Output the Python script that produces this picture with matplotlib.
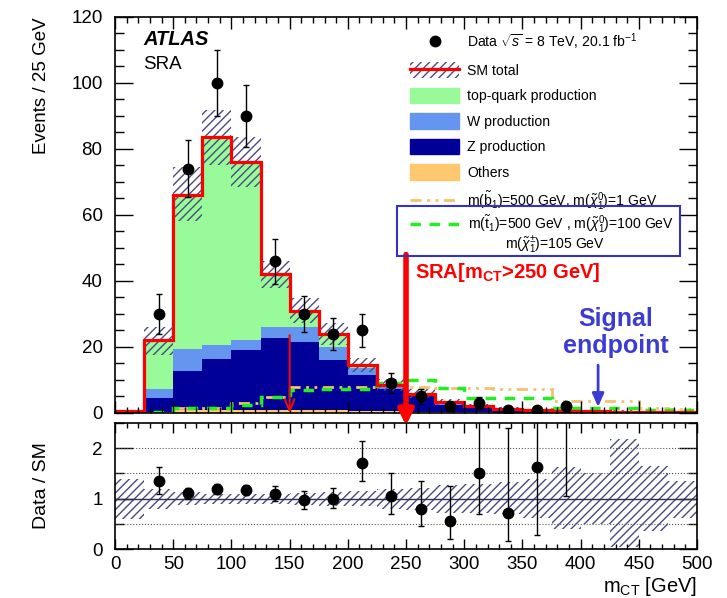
import matplotlib
matplotlib.use("Agg")
import matplotlib.pyplot as plt
import numpy as np
from matplotlib.patches import Patch, Rectangle
from matplotlib.lines import Line2D
from matplotlib.ticker import MultipleLocator

plt.rcParams['font.family'] = ['Liberation Sans', 'DejaVu Sans']
plt.rcParams['mathtext.fontset'] = 'custom'
plt.rcParams['mathtext.rm'] = 'Liberation Sans'
plt.rcParams['mathtext.it'] = 'Liberation Sans:italic'
plt.rcParams['mathtext.bf'] = 'Liberation Sans:bold'
plt.rcParams['hatch.linewidth'] = 1.0

# binning: 25 GeV bins from 0 to 500
edges = np.arange(0, 525, 25)

# background components (events per bin)
others = [0.1, 0.4, 0.8, 0.8, 0.8, 0.8, 0.8, 0.8, 0.6, 0.5, 0.4, 0.3, 0.2, 0.1, 0.1, 0.1, 0.1, 0.1, 0.1, 0.1]
zprod = [0.2, 4.2, 11.9, 15.7, 18.2, 22.0, 20.7, 15.2, 10.8, 6.9, 4.6, 2.2, 1.3, 0.7, 0.4, 0.3, 0.2, 0.2, 0.1, 0.1]
wprod = [0.1, 2.8, 6.8, 4.0, 3.2, 3.2, 4.5, 4.0, 2.3, 0.6, 0.5, 0.4, 0.2, 0.2, 0.1, 0.1, 0.1, 0.05, 0.05, 0.05]
topq = [0.1, 14.6, 46.5, 63.0, 53.8, 16.0, 5.0, 4.0, 0.8, 0.5, 0.4, 0.4, 0.3, 0.3, 0.2, 0.1, 0.1, 0.05, 0.05, 0.05]

# signal models
sig_b1 = [0.0, 0.0, 1.6, 1.6, 3.0, 4.8, 8.0, 8.0, 8.0, 8.5, 8.0, 7.5, 7.5, 7.3, 7.3, 3.5, 3.5, 3.5, 1.6, 1.2]
sig_t1 = [0.3, 0.3, 1.6, 1.6, 2.4, 4.9, 7.0, 7.3, 7.3, 9.0, 10.0, 7.5, 4.5, 4.5, 4.5, 1.6, 1.6, 1.6, 0.8, 0.8]

# SM uncertainty band (relative, as in the ratio panel)
band_lo = [0.6, 0.8, 0.88, 0.9, 0.9, 0.9, 0.88, 0.86, 0.85, 0.8, 0.78, 0.72, 0.71, 0.69, 0.62, 0.39, 0.5, 0.05, 0.35, 0.62]
band_hi = [1.38, 1.19, 1.13, 1.1, 1.1, 1.1, 1.12, 1.14, 1.15, 1.2, 1.22, 1.28, 1.29, 1.32, 1.39, 1.62, 1.5, 2.19, 1.65, 1.35]

# data
data_x = [37.5, 62.5, 87.5, 112.5, 137.5, 162.5, 187.5, 212.5, 237.5, 262.5, 287.5, 312.5, 337.5, 362.5, 387.5]
data_y = [30, 74, 100, 90, 46, 30, 24, 25, 9, 5, 2, 3, 1, 1, 2]
data_err = [6.0, 8.6, 10.0, 9.5, 6.8, 5.5, 4.9, 5.0, 3.0, 2.2, 1.4, 1.7, 1.0, 1.0, 1.4]

ratio_y = [1.35, 1.12, 1.2, 1.18, 1.1, 0.97, 1.0, 1.7, 1.05, 0.8, 0.55, 1.5, 0.72, 1.63, 3.5]
ratio_lo = [1.1, 1.0, 1.1, 1.08, 0.95, 0.8, 0.82, 1.35, 0.7, 0.45, 0.2, 0.7, 0.15, 0.28, 1.05]
ratio_hi = [1.62, 1.22, 1.3, 1.28, 1.25, 1.15, 1.22, 2.15, 1.5, 1.35, 1.25, 3.0, 2.4, 3.0, 5.0]

c_top = '#98fa98'
c_w = '#6496f0'
c_z = '#000099'
c_oth = '#ffc86e'
c_hatch = '#4a4a80'
c_b1 = '#f5c26b'
c_t1 = '#22ee22'
ls_b1 = (0, (4, 2, 1, 2, 1, 2))
ls_t1 = (0, (3, 2.5))
hatch = '////'

others = np.array(others)
zprod = np.array(zprod)
wprod = np.array(wprod)
topq = np.array(topq)
cum1 = others
cum2 = cum1 + zprod
cum3 = cum2 + wprod
sm = cum3 + topq

fig = plt.figure(figsize=(7.27, 5.98), dpi=100)
ax = fig.add_axes([0.1582, 0.3094, 0.8006, 0.6622])
axr = fig.add_axes([0.1582, 0.0819, 0.8006, 0.2107])
ax.set_zorder(3)

# stacked backgrounds
ax.stairs(cum1, edges, baseline=0, fill=True, color=c_oth, lw=0)
ax.stairs(cum2, edges, baseline=cum1, fill=True, color=c_z, lw=0)
ax.stairs(cum3, edges, baseline=cum2, fill=True, color=c_w, lw=0)
ax.stairs(sm, edges, baseline=cum3, fill=True, color=c_top, lw=0)

# uncertainty hatch
ax.stairs(sm * np.array(band_hi), edges, baseline=sm * np.array(band_lo), fill=True,
          facecolor='none', edgecolor=c_hatch, hatch=hatch, lw=0)

# signals
ax.stairs(sig_b1, edges, baseline=None, color=c_b1, lw=2, ls=ls_b1)
ax.stairs(sig_t1, edges, baseline=None, color=c_t1, lw=2.5, ls=ls_t1)

# SM total
ax.stairs(sm, edges, baseline=None, color='red', lw=2.3)

ax.errorbar(data_x, data_y, yerr=data_err, fmt='o', color='black', ms=7.5,
            elinewidth=1, capsize=2)

ax.set_xlim(0, 500)
ax.set_ylim(0, 120)
ax.xaxis.set_major_locator(MultipleLocator(50))
ax.xaxis.set_minor_locator(MultipleLocator(10))
ax.yaxis.set_major_locator(MultipleLocator(20))
ax.yaxis.set_minor_locator(MultipleLocator(5))
ax.tick_params(which='both', direction='in', top=True, right=True, labelbottom=False,
               labelsize=13.5, width=1)
ax.tick_params(axis='y', which='major', length=13, pad=9)
ax.tick_params(axis='y', which='minor', length=6.5)
ax.tick_params(axis='x', which='major', length=8.5)
ax.tick_params(axis='x', which='minor', length=4.3)
ax.set_ylabel('Events / 25 GeV', fontsize=13.5, loc='top')
ax.yaxis.set_label_coords(-0.112, 1.0)

ax.text(0.048, 0.942, 'ATLAS', transform=ax.transAxes, fontsize=14.5,
        fontweight='bold', style='italic', va='center')
ax.text(0.048, 0.879, 'SRA', transform=ax.transAxes, fontsize=13.5, va='center')

# legend
h_data = Line2D([], [], marker='o', color='black', ls='none', ms=7.5)
h_sm = (Patch(facecolor='none', edgecolor=c_hatch, hatch=hatch, lw=0),
        Line2D([], [], color='red', lw=2.3))
h_top = Patch(color=c_top)
h_w = Patch(color=c_w)
h_z = Patch(color=c_z)
h_oth = Patch(color=c_oth)
h_b1 = Line2D([], [], color=c_b1, lw=2, ls=ls_b1)
labels = [r'Data $\sqrt{s}$ = 8 TeV, 20.1 fb$^{-1}$',
          'SM total',
          'top-quark production',
          'W production',
          'Z production',
          'Others',
          r'm($\tilde{\rm b}_1$)=500 GeV, m($\tilde{\chi}^0_1$)=1 GeV']
leg = ax.legend([h_data, h_sm, h_top, h_w, h_z, h_oth, h_b1], labels,
                loc='upper left', bbox_to_anchor=(0.507, 0.962), frameon=False,
                fontsize=10.1, handlelength=3.5, handleheight=1.3,
                handletextpad=0.57, labelspacing=0.72, borderpad=0, borderaxespad=0)

# stop signal entry (two lines, boxed)
y_t1 = 1 - 224 / 598
fig.add_artist(Line2D([410 / 727, 460 / 727], [y_t1, y_t1], transform=fig.transFigure,
                      color=c_t1, lw=2.5, ls=ls_t1, zorder=10))
fig.text(468 / 727, y_t1, r'm($\tilde{\rm t}_1$)=500 GeV , m($\tilde{\chi}^0_1$)=100 GeV',
         fontsize=10.1, va='center', zorder=10)
fig.text(555 / 727, 1 - 245 / 598, r'm($\tilde{\chi}^{\pm}_1$)=105 GeV', fontsize=10.1,
         ha='center', va='center', zorder=10)
fig.patches.append(Rectangle((0.546, 0.572), 0.389, 0.0836, transform=fig.transFigure,
                             fill=False, edgecolor='#3232c8', lw=1.5, zorder=10))

# annotations
ax.annotate('', xy=(250, -3.8), xytext=(250, 48),
            arrowprops=dict(arrowstyle='-|>', color='red', lw=4, mutation_scale=22,
                            shrinkA=0, shrinkB=0),
            annotation_clip=False, zorder=10)
ax.text(258, 42.7, r'SRA[m$_{\bf CT}$>250 GeV]', color='red', fontsize=14.5,
        fontweight='bold', va='center')
ax.annotate('', xy=(150, 0), xytext=(150, 23.6),
            arrowprops=dict(arrowstyle='->,head_length=0.8,head_width=0.35', color='#e01010',
                            lw=1.5, shrinkA=0, shrinkB=0))
ax.annotate('', xy=(415, 1.8), xytext=(415, 14.5),
            arrowprops=dict(arrowstyle='-|>,head_length=0.8,head_width=0.35',
                            color='#3c3cd2', lw=2, shrinkA=0, shrinkB=0))
ax.text(430, 24.5, 'Signal\nendpoint', color='#3c3cd2', fontsize=18, fontweight='bold',
        ha='center', va='center', linespacing=1.15)

# ratio panel
for yv in [0.5, 1.5, 2.0]:
    axr.axhline(yv, color='#555555', lw=0.8, ls=':')
axr.axhline(1.0, color='#303060', lw=1)
axr.stairs(band_hi, edges, baseline=band_lo, fill=True, facecolor='none',
           edgecolor=c_hatch, hatch=hatch, lw=0)
ry = np.array(ratio_y)
axr.errorbar(data_x, ry, yerr=[ry - np.array(ratio_lo), np.array(ratio_hi) - ry],
             fmt='o', color='black', ms=7.5, elinewidth=1, capsize=2)
axr.set_xlim(0, 500)
axr.set_ylim(0, 2.5)
axr.xaxis.set_major_locator(MultipleLocator(50))
axr.xaxis.set_minor_locator(MultipleLocator(10))
axr.yaxis.set_major_locator(MultipleLocator(1))
axr.yaxis.set_minor_locator(MultipleLocator(0.5))
axr.tick_params(which='both', direction='in', top=True, right=True, labelsize=13.5, width=1)
axr.tick_params(axis='y', which='major', length=13, pad=9)
axr.tick_params(axis='y', which='minor', length=6.5)
axr.tick_params(axis='x', which='major', length=7, pad=5)
axr.tick_params(axis='x', which='minor', length=3.5)
axr.set_ylabel('Data / SM', fontsize=14)
axr.yaxis.set_label_coords(-0.112, 0.5)
axr.set_xlabel(r'm$_{\rm CT}$ [GeV]', fontsize=14.5, loc='right')
axr.xaxis.set_label_coords(1.0, -0.205)

for a in (ax, axr):
    for s in a.spines.values():
        s.set_linewidth(1.2)

fig.savefig('out.png', dpi=100)
